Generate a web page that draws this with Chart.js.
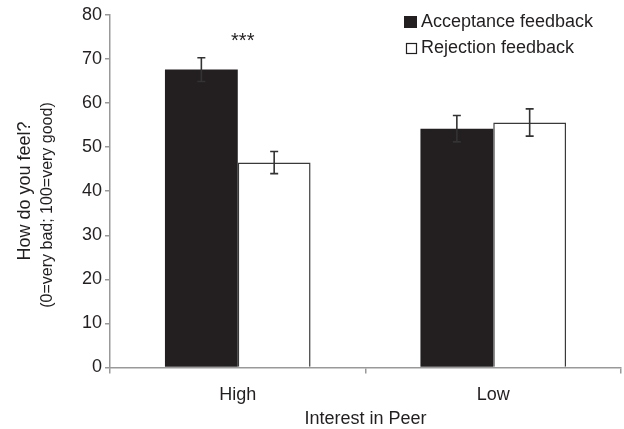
<!DOCTYPE html>
<html>
<head>
<meta charset="utf-8">
<script src="https://cdn.jsdelivr.net/npm/chart.js@4"></script>
<style>
  html, body { margin: 0; padding: 0; background: #fff; }
  #wrap { width: 624px; height: 429px; }
</style>
</head>
<body>
<div id="wrap"><canvas id="chart"></canvas></div>
<script>
const categories = ['High', 'Low'];
const seriesNames = ['Acceptance feedback', 'Rejection feedback'];
const acceptance = [67.6, 54.2];
const rejection = [46.5, 55.6];
const acceptanceErr = [2.7, 3.0];
const rejectionErr = [2.5, 3.1];
const yTicks = [0, 10, 20, 30, 40, 50, 60, 70, 80];
const yTitle = ['How do you feel?', '(0=very bad; 100=very good)'];

const FONT = '"Liberation Sans", Arial, sans-serif';
const INK = '#231f20';

const errorBars = {
    id: 'errorBars',
    afterDatasetsDraw(chart) {
        const ctx = chart.ctx;
        const y = chart.scales.y;
        const errs = [acceptanceErr, rejectionErr];
        ctx.save();
        ctx.strokeStyle = '#333';
        ctx.lineWidth = 1.6;
        chart.data.datasets.forEach((ds, di) => {
            chart.getDatasetMeta(di).data.forEach((bar, i) => {
                const v = ds.data[i];
                const top = y.getPixelForValue(v + errs[di][i]);
                const bot = y.getPixelForValue(v - errs[di][i]);
                ctx.beginPath();
                ctx.moveTo(bar.x, top); ctx.lineTo(bar.x, bot);
                ctx.moveTo(bar.x - 4, top); ctx.lineTo(bar.x + 4, top);
                ctx.moveTo(bar.x - 4, bot); ctx.lineTo(bar.x + 4, bot);
                ctx.stroke();
            });
        });
        // significance marker over the High group
        ctx.fillStyle = INK;
        ctx.font = '20px ' + FONT;
        ctx.textAlign = 'center';
        ctx.textBaseline = 'alphabetic';
        ctx.fillText('***', chart.scales.x.getPixelForValue(0) + 5, 47);
        ctx.restore();
    }
};

const labelsPlugin = {
    id: 'labelsPlugin',
    afterDraw(chart) {
        const ctx = chart.ctx;
        const ds = chart.data.datasets;
        ctx.save();
        ctx.font = '18px ' + FONT;
        ctx.textBaseline = 'middle';
        // legend: filled and open squares
        ctx.fillStyle = ds[0].backgroundColor;
        ctx.fillRect(404, 16, 13, 12);
        ctx.fillStyle = ds[1].backgroundColor;
        ctx.fillRect(406, 43, 10, 10);
        ctx.strokeStyle = INK;
        ctx.lineWidth = 1.2;
        ctx.strokeRect(406.5, 43.5, 10, 10);
        ctx.fillStyle = INK;
        ctx.fillText(ds[0].label, 421, 22);
        ctx.fillText(ds[1].label, 421, 48);

        // y axis title, two rotated lines
        ctx.textAlign = 'center';
        ctx.save();
        ctx.translate(25, 191);
        ctx.rotate(-Math.PI / 2);
        ctx.font = '18px ' + FONT;
        ctx.fillText(yTitle[0], 0, 0);
        ctx.restore();
        ctx.save();
        ctx.translate(48, 205);
        ctx.rotate(-Math.PI / 2);
        ctx.font = '16px ' + FONT;
        ctx.fillText(yTitle[1], 0, 0);
        ctx.restore();
        ctx.restore();
    }
};

new Chart(document.getElementById('chart'), {
    type: 'bar',
    data: {
        labels: categories,
        datasets: [
            { label: seriesNames[0], data: acceptance, backgroundColor: INK, borderColor: INK, borderWidth: 0 },
            { label: seriesNames[1], data: rejection, backgroundColor: '#ffffff', borderColor: '#3a3a3a', borderWidth: 1.5 }
        ]
    },
    options: {
        responsive: true,
        maintainAspectRatio: false,
        animation: false,
        layout: { padding: { top: 15, right: 3, left: 79, bottom: 0 } },
        datasets: { bar: { barPercentage: 1, categoryPercentage: 0.57 } },
        plugins: { legend: { display: false }, tooltip: { enabled: false } },
        scales: {
            x: {
                border: { color: '#999', width: 1.5 },
                grid: { offset: true, drawOnChartArea: false, tickLength: 6, color: '#999', lineWidth: 1.5 },
                ticks: { color: INK, font: { family: FONT, size: 18 }, padding: 11 },
                title: {
                    display: true, text: 'Interest in Peer', color: INK,
                    font: { family: FONT, size: 18, lineHeight: 1 },
                    padding: { top: -7, bottom: 1 }
                }
            },
            y: {
                min: 0, max: 80,
                afterBuildTicks(axis) { axis.ticks = yTicks.map(v => ({ value: v })); },
                border: { color: '#999', width: 1.5 },
                grid: { drawOnChartArea: false, tickLength: 5, color: '#999', lineWidth: 1.5 },
                ticks: { color: INK, font: { family: FONT, size: 18 }, padding: 3 }
            }
        }
    },
    plugins: [errorBars, labelsPlugin]
});
</script>
</body>
</html>
